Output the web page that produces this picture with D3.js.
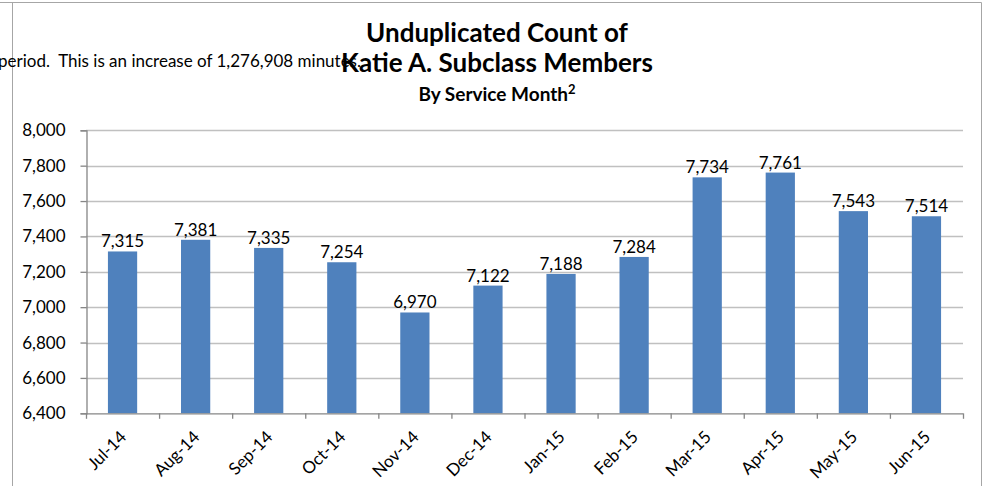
<!DOCTYPE html>
<html><head><meta charset="utf-8">
<script src="https://cdn.jsdelivr.net/npm/d3@7"></script>
<style>
html,body{margin:0;padding:0;background:#fff;overflow:hidden;}
svg{display:block;font-family:Lato,"Open Sans",sans-serif;}
</style></head>
<body>
<svg id="chart" width="987" height="486"></svg>
<script>
const categories = ["Jul-14","Aug-14","Sep-14","Oct-14","Nov-14","Dec-14","Jan-15","Feb-15","Mar-15","Apr-15","May-15","Jun-15"];
const members = [7315,7381,7335,7254,6970,7122,7188,7284,7734,7761,7543,7514];
const yTicks = [6400,6600,6800,7000,7200,7400,7600,7800,8000];
const titleLines = ["Unduplicated Count of","Katie A. Subclass Members"];
const subtitle = "By Service Month";
const backgroundText = "period.  This is an increase of 1,276,908 minutes.";

const svg = d3.select("#chart");
const m = {left:86, right:963, top:130.3, bottom:413.3};
const fmt = d3.format(",");

// frame lines
svg.append("line").attr("x1",0).attr("x2",981.5).attr("y1",2.5).attr("y2",2.5).attr("stroke","#a6a6a6");
svg.append("line").attr("x1",12.5).attr("x2",12.5).attr("y1",2.5).attr("y2",486).attr("stroke","#a6a6a6");
svg.append("line").attr("x1",981.5).attr("x2",981.5).attr("y1",2.5).attr("y2",486).attr("stroke","#a6a6a6");

// background document text
svg.append("text").attr("x",-2).attr("y",67).attr("font-size",17).attr("fill","#000")
  .style("white-space","pre").text(backgroundText);

const x = d3.scaleBand().domain(categories).range([m.left,m.right]).paddingInner(0.6).paddingOuter(0.3);
const xb = d3.scaleBand().domain(categories).range([m.left,m.right]);
const y = d3.scaleLinear().domain([6400,8000]).range([m.bottom,m.top]);

// gridlines
svg.append("g").selectAll("line").data(yTicks.slice(1)).join("line")
  .attr("x1",m.left).attr("x2",m.right)
  .attr("y1",d=>Math.round(y(d))+0.5).attr("y2",d=>Math.round(y(d))+0.5)
  .attr("stroke","#c0c0c0").attr("stroke-width",1.3);

// bars
svg.append("g").selectAll("rect").data(members).join("rect")
  .attr("x",(d,i)=>x(categories[i]))
  .attr("width",x.bandwidth())
  .attr("y",d=>y(d))
  .attr("height",d=>m.bottom-y(d))
  .attr("fill","#4f81bd");

// data labels
svg.append("g").selectAll("text").data(members).join("text")
  .attr("x",(d,i)=>x(categories[i])+x.bandwidth()/2)
  .attr("y",d=>y(d)-4)
  .attr("text-anchor","middle").attr("font-size",17).attr("fill","#000")
  .text(d=>fmt(d));

// y axis
const yAxis = d3.axisLeft(y).tickValues(yTicks).tickFormat(fmt).tickSize(6).tickPadding(15);
const gy = svg.append("g").attr("transform",`translate(${m.left+0.5},0)`).call(yAxis);
gy.select(".domain").attr("stroke","#868686").attr("stroke-width",1.3);
gy.selectAll(".tick line").attr("stroke","#868686").attr("stroke-width",1.3);
gy.selectAll(".tick text").attr("font-size",17).attr("font-family","Lato").attr("fill","#000");

// x axis
const boundaries = categories.map(c=>xb(c)).concat([m.right]);
svg.append("line").attr("x1",m.left).attr("x2",m.right).attr("y1",m.bottom+0.5).attr("y2",m.bottom+0.5)
  .attr("stroke","#868686").attr("stroke-width",1.3);
svg.append("g").selectAll("line").data(boundaries).join("line")
  .attr("x1",d=>d+0.5).attr("x2",d=>d+0.5).attr("y1",m.bottom).attr("y2",m.bottom+5.5)
  .attr("stroke","#868686").attr("stroke-width",1.3);
svg.append("g").selectAll("text").data(categories).join("text")
  .attr("transform",d=>`translate(${xb(d)+xb.bandwidth()/2+5},438) rotate(-45)`)
  .attr("text-anchor","end").attr("font-size",17).attr("fill","#000")
  .text(d=>d);

// titles
svg.append("g").selectAll("text").data(titleLines).join("text")
  .attr("x",497).attr("y",(d,i)=>42+i*30)
  .attr("text-anchor","middle").attr("font-size",26).attr("font-weight","bold").attr("fill","#000")
  .text(d=>d);
const st = svg.append("text").attr("x",497).attr("y",101).attr("text-anchor","middle")
  .attr("font-size",19).attr("font-weight","bold").attr("fill","#000");
st.append("tspan").text(subtitle);
st.append("tspan").attr("font-size",13).attr("dy",-7).text("2");
</script>
</body></html>
